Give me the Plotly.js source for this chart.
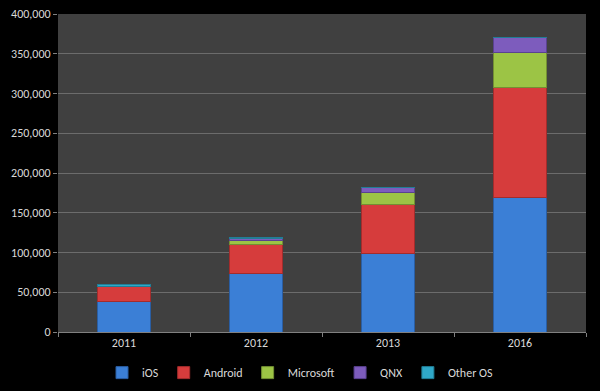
<!DOCTYPE html>
<html><head><meta charset="utf-8">
<script src="https://cdn.plot.ly/plotly-3.0.1.min.js"></script>
<style>html,body{margin:0;padding:0;background:#000;}#chart{width:600px;height:391px;}</style>
</head><body><div id="chart"></div>
<script>
const years = ['2011', '2012', '2013', '2016'];
const ios = [39000, 73000, 99000, 169500];
const android = [18000, 37500, 62000, 137500];
const microsoft = [300, 4500, 15000, 44500];
const qnx = [200, 2500, 5400, 19000];
const otherOS = [2500, 1000, 500, 500];
const seriesNames = ['iOS', 'Android', 'Microsoft', 'QNX', 'Other OS'];
const seriesColors = ['#3b7fd6', '#d63c3c', '#9cc445', '#7d5cbd', '#2fa8c8'];
const lineColors = ['#2a5ea3', '#a32c2c', '#738f33', '#5a4290', '#217d96'];
const allValues = [ios, android, microsoft, qnx, otherOS];

const traces = allValues.map((vals, i) => ({
  type: 'bar', name: seriesNames[i], x: years, y: vals,
  marker: {color: seriesColors[i], line: {color: lineColors[i], width: 1}},
  hoverinfo: 'x+y+name'
}));

const layout = {
  width: 600, height: 391,
  paper_bgcolor: '#000', plot_bgcolor: '#404040',
  barmode: 'stack', bargap: 0.6,
  margin: {l: 58, r: 14, t: 14, b: 59},
  font: {family: 'Calibri, Carlito, "Liberation Sans", Arial, sans-serif', size: 12, color: '#d9d9d9'},
  xaxis: {type: 'category', showgrid: false, showline: true, linecolor: '#808080',
    ticks: 'outside', tickson: 'boundaries', ticklen: 4, tickcolor: '#808080',
    tickfont: {size: 12, color: '#d9d9d9'}},
  yaxis: {range: [0, 400000], dtick: 50000, tickformat: ',d', gridcolor: '#6c6c6c', gridwidth: 1,
    showline: false, zeroline: false, ticks: 'outside', ticklen: 4, tickcolor: '#808080',
    tickfont: {size: 12, color: '#d9d9d9'}},
  legend: {orientation: 'h', x: 0.5, xanchor: 'center', xref: 'container', yref: 'container',
    y: 0.047, yanchor: 'middle',
    font: {size: 12, color: '#d9d9d9'}, itemwidth: 30, traceorder: 'normal'},
  showlegend: true
};
Plotly.newPlot('chart', traces, layout, {displayModeBar: false});
</script></body></html>
